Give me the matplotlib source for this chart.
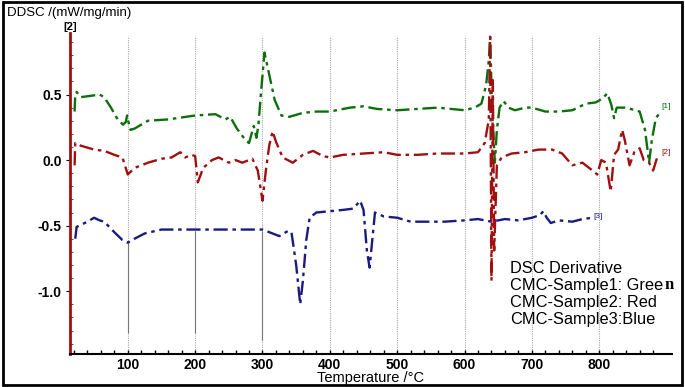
import numpy as np
import matplotlib
matplotlib.use("Agg")
import matplotlib.pyplot as plt
from matplotlib.patches import Rectangle

plt.rcParams['font.family'] = ['Liberation Sans', 'DejaVu Sans']

# courbes : temperature (°C) / DDSC (mW/mg/min)
t_green = [21, 22, 24, 30, 45, 58, 65, 75, 85, 93, 97, 99, 101, 104, 110, 130, 160, 200, 230, 245,
           252, 262, 275, 280, 287, 291, 294, 298, 303, 308, 318, 328, 340, 360, 380, 400, 430, 450,
           470, 500, 530, 560, 600, 615, 625, 632, 636, 638, 641, 645, 648, 652, 658, 665, 675, 690,
           700, 720, 740, 760, 780, 795, 805, 812, 818, 822, 826, 840, 860, 868, 874, 878, 884, 890]
y_green = [0.37, 0.50, 0.52, 0.48, 0.49, 0.50, 0.48, 0.40, 0.31, 0.27, 0.29, 0.34, 0.29, 0.23, 0.24,
           0.30, 0.31, 0.34, 0.35, 0.31, 0.33, 0.24, 0.15, 0.13, 0.26, 0.17, 0.27, 0.53, 0.82, 0.70,
           0.46, 0.34, 0.33, 0.36, 0.37, 0.37, 0.40, 0.41, 0.39, 0.38, 0.39, 0.40, 0.38, 0.40, 0.43,
           0.57, 0.76, 0.94, 0.38, -0.02, 0.23, 0.40, 0.45, 0.40, 0.38, 0.40, 0.40, 0.37, 0.37, 0.38,
           0.43, 0.44, 0.47, 0.51, 0.42, 0.32, 0.40, 0.40, 0.37, 0.23, -0.02, 0.15, 0.32, 0.36]

t_red = [21, 22, 30, 50, 65, 80, 92, 100, 110, 130, 150, 165, 178, 185, 195, 200, 204, 212, 225, 235,
         250, 260, 270, 285, 293, 300, 305, 310, 315, 320, 330, 345, 360, 375, 390, 400, 420, 450, 480,
         500, 530, 560, 600, 620, 630, 636, 638, 640, 642, 644, 648, 655, 670, 690, 710, 730, 745, 760,
         775, 790, 797, 803, 810, 817, 822, 828, 834, 838, 845, 852, 860, 866, 874, 880, 886, 890]
y_red = [-0.04, 0.13, 0.11, 0.08, 0.07, 0.04, 0.02, -0.11, -0.06, -0.02, 0.01, 0.02, 0.06, 0.02, 0.04,
         0.03, -0.17, -0.06, 0.0, 0.02, -0.02, 0.0, -0.02, 0.01, -0.08, -0.31, -0.08, 0.11, 0.22, 0.14,
         0.02, -0.02, 0.04, 0.07, 0.03, 0.02, 0.04, 0.05, 0.06, 0.04, 0.04, 0.05, 0.05, 0.06, 0.13,
         0.31, 0.94, -0.92, 0.61, -0.69, -0.04, 0.02, 0.05, 0.06, 0.08, 0.08, 0.05, -0.04, -0.02, -0.08,
         -0.11, 0.0, -0.02, -0.24, 0.04, 0.08, 0.23, 0.15, -0.04, 0.06, 0.09, 0.0, -0.02, -0.08, 0.02, 0.04]

t_blue = [22, 24, 32, 40, 50, 58, 65, 80, 92, 100, 110, 125, 150, 175, 200, 250, 280, 300, 315, 325,
          338, 343, 350, 356, 360, 365, 370, 380, 400, 420, 435, 445, 450, 455, 459, 463, 467, 480,
          500, 520, 550, 570, 600, 620, 640, 660, 680, 700, 712, 717, 722, 728, 740, 760, 775, 790]
y_blue = [-0.60, -0.51, -0.49, -0.47, -0.44, -0.46, -0.47, -0.55, -0.61, -0.63, -0.60, -0.56, -0.53,
          -0.53, -0.53, -0.53, -0.53, -0.53, -0.56, -0.58, -0.54, -0.55, -0.80, -1.10, -0.92, -0.61,
          -0.44, -0.40, -0.39, -0.38, -0.37, -0.31, -0.38, -0.69, -0.82, -0.61, -0.40, -0.43, -0.44,
          -0.47, -0.47, -0.47, -0.46, -0.45, -0.47, -0.45, -0.46, -0.44, -0.42, -0.39, -0.44, -0.48,
          -0.46, -0.47, -0.45, -0.44]

# traits verticaux sous la courbe bleue (marqueurs de l'appareil)
marq_t = [100, 200, 300]
marq_haut = [-0.63, -0.54, -0.54]
marq_bas = [-1.32, -1.32, -1.37]

xticks = [100, 200, 300, 400, 500, 600, 700, 800]
yticks = [0.5, 0.0, -0.5, -1.0]

vert = '#0d6e0d'
rouge = '#a01010'
bleu = '#1a1a80'
tiret = (0, (6, 2, 1.5, 2))

fig = plt.figure(figsize=(6.85, 3.87), dpi=100)
ax = fig.add_axes([0.102, 0.085, 0.879, 0.830])

# grille pointillée
for xt in xticks:
    ax.axvline(xt, ymin=0.0, ymax=0.99, color='#aaaaaa', lw=0.8, ls=(0, (1, 1)), zorder=0)
ax.vlines(marq_t, marq_bas, marq_haut, color='#777777', lw=0.8, zorder=1)

ax.plot(t_green, y_green, color=vert, lw=1.7, ls=tiret)
ax.plot(t_red, y_red, color=rouge, lw=1.7, ls=tiret)
ax.plot(t_blue, y_blue, color=bleu, lw=1.7, ls=tiret)

ax.text(t_green[-1] + 2, y_green[-1] + 0.05, '[1]', color=vert, fontsize=6, ha='left', va='center')
ax.text(t_red[-1] + 2, y_red[-1] + 0.02, '[2]', color=rouge, fontsize=6, ha='left', va='center')
ax.text(t_blue[-1] + 2, y_blue[-1] + 0.01, '[3]', color=bleu, fontsize=6, ha='left', va='center')

ax.set_xlim(14, 908)
ax.set_ylim(-1.48, 0.97)
ax.set_xticks(xticks)
ax.set_yticks(yticks)
ax.set_xticklabels([str(v) for v in xticks], fontweight='bold', fontsize=10)
ax.set_yticklabels(['%.1f' % v for v in yticks], fontweight='bold', fontsize=10)
ax.set_xticks(np.arange(20, 900, 20), minor=True)
ax.set_yticks(np.arange(-1.4, 0.95, 0.1), minor=True)
ax.tick_params(axis='x', which='both', direction='in', length=3, width=1, pad=3)
ax.tick_params(axis='y', which='major', direction='out', length=3, colors='black', pad=3)
ax.tick_params(axis='y', which='minor', direction='in', length=2, color=rouge)
ax.set_xlabel('Temperature /°C', fontsize=10.5, labelpad=-1)

for s in ['top', 'right']:
    ax.spines[s].set_visible(False)
ax.spines['left'].set_color(rouge)
ax.spines['left'].set_linewidth(2)
ax.spines['bottom'].set_linewidth(1.5)

fig.text(0.010, 0.966, 'DDSC /(mW/mg/min)', fontsize=9.5, ha='left', va='center')
fig.text(0.102, 0.930, '[2]', fontsize=8, fontweight='bold', ha='center', va='center')

# légende texte
lignes = ['DSC Derivative', 'CMC-Sample1: Gree', 'CMC-Sample2: Red', 'CMC-Sample3:Blue']
objs = []
for i, l in enumerate(lignes):
    objs.append(fig.text(0.745, 0.307 - i * 0.044, l, fontsize=11.8, ha='left', va='center'))

# le "n" final de "Green" est dans une autre police sur l'original
fig.canvas.draw()
bb = objs[1].get_window_extent(fig.canvas.get_renderer())
x_n = fig.transFigure.inverted().transform((bb.x1 + 1, 0))[0]
fig.text(x_n, 0.263, 'n', fontsize=12, fontweight='bold', family='Liberation Serif',
         ha='left', va='center')

fig.patches.append(Rectangle((0.004, 0.006), 0.992, 0.988, transform=fig.transFigure,
                             fill=False, lw=2, ec='black'))

fig.savefig('out.png', dpi=100)
